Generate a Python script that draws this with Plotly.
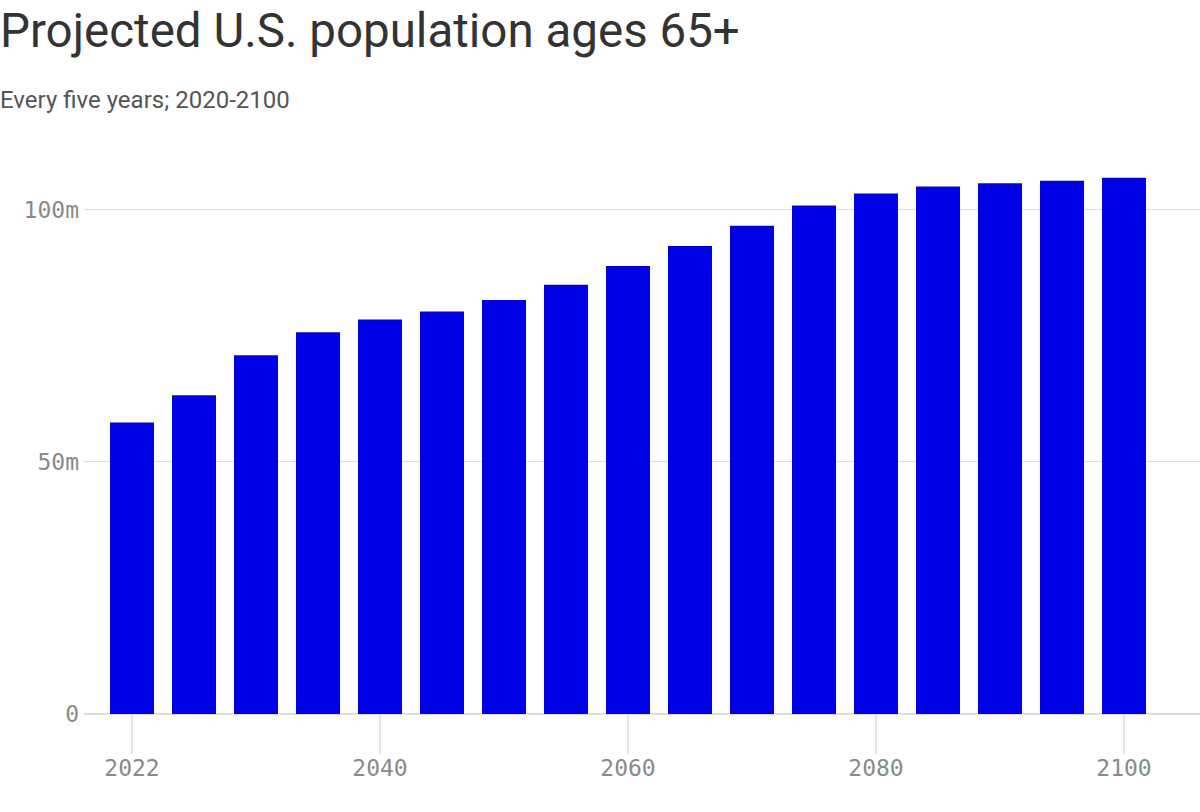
import plotly.graph_objects as go

# data (millions of people aged 65+)
years = ["2022", "2025", "2030", "2035", "2040", "2045", "2050", "2055", "2060",
         "2065", "2070", "2075", "2080", "2085", "2090", "2095", "2100"]
population_m = [57.8, 63.2, 71.1, 75.7, 78.2, 79.8, 82.1, 85.1, 88.8,
                92.8, 96.8, 100.8, 103.2, 104.6, 105.2, 105.7, 106.3]

x_tick_years = ["2022", "2040", "2060", "2080", "2100"]
y_tick_vals = [0, 50, 100]
y_tick_text = ["0", "50m", "100m"]

title_text = "Projected U.S. population ages 65+"
subtitle_text = "Every five years; 2020-2100"

W, H = 1200, 812
ML, MT, MB = 84, 170, 98
plot_w = W - ML
plot_h = H - MT - MB

fig = go.Figure()
fig.add_trace(go.Bar(
    x=years,
    y=population_m,
    marker=dict(color="#0000e6", line=dict(width=0)),
    hoverinfo="x+y",
))

fig.update_layout(
    width=W,
    height=H,
    margin=dict(l=ML, r=0, t=MT, b=MB),
    paper_bgcolor="white",
    plot_bgcolor="white",
    bargap=0.29,
    showlegend=False,
    font=dict(family="DejaVu Sans Mono", color="#888888"),
    xaxis=dict(
        type="category",
        range=[-0.774, 17.226],
        tickmode="array",
        tickvals=x_tick_years,
        ticktext=x_tick_years,
        ticks="outside",
        ticklen=39,
        tickwidth=2,
        tickcolor="#e3e3e3",
        ticklabelstandoff=-6,
        tickfont=dict(family="DejaVu Sans Mono", size=23, color="#8a8a8a"),
        showgrid=False,
        showline=False,
        zeroline=False,
        fixedrange=True,
    ),
    yaxis=dict(
        range=[0, 107.85],
        tickmode="array",
        tickvals=y_tick_vals,
        ticktext=y_tick_text,
        ticks="",
        ticklabelstandoff=4,
        tickfont=dict(family="DejaVu Sans Mono", size=23, color="#8a8a8a"),
        showgrid=True,
        gridcolor="#dddddd",
        gridwidth=1,
        zeroline=True,
        zerolinecolor="#dddddd",
        zerolinewidth=2,
        showline=False,
        fixedrange=True,
    ),
)

# headline and subhead, placed relative to the left edge of the page
fig.add_annotation(
    text=title_text,
    xref="paper", yref="paper",
    x=-(ML + 2) / plot_w, y=(H - MB - 31) / plot_h,
    xanchor="left", yanchor="middle",
    showarrow=False,
    font=dict(family="Roboto", size=47.5, color="#333333"),
)
fig.add_annotation(
    text=subtitle_text,
    xref="paper", yref="paper",
    x=-(ML + 2) / plot_w, y=(H - MB - 100) / plot_h,
    xanchor="left", yanchor="middle",
    showarrow=False,
    font=dict(family="Roboto", size=24, color="#555555"),
)

# drop the browser's default body margin so the figure sits at the page corner
fig.write_html(
    "out.html",
    config={"displayModeBar": False},
    post_script="document.body.style.margin='0';",
)
